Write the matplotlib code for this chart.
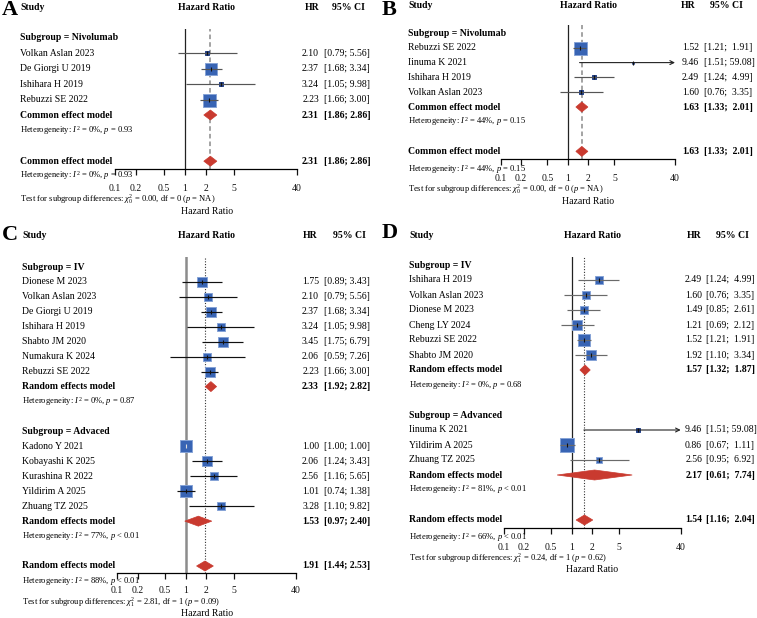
import numpy as np
import matplotlib
matplotlib.use('Agg')
import matplotlib.pyplot as plt
from matplotlib.transforms import blended_transform_factory
from matplotlib.patches import Polygon
from matplotlib.ticker import NullLocator

plt.rcParams['font.family'] = ['Liberation Serif', 'DejaVu Serif']
plt.rcParams['mathtext.fontset'] = 'custom'
plt.rcParams['mathtext.rm'] = 'Liberation Serif'
plt.rcParams['mathtext.it'] = 'Liberation Serif:italic'
plt.rcParams['mathtext.bf'] = 'Liberation Serif:bold'

# ---------------- DATA ----------------
tick_vals = [0.1, 0.2, 0.5, 1, 2, 5, 40]
tick_labels = ['0.1', '0.2', '0.5', '1', '2', '5', '40']

# Panel A
a_study = ['Volkan Aslan 2023', 'De Giorgi U 2019', 'Ishihara H 2019', 'Rebuzzi SE 2022']
a_hr = [2.10, 2.37, 3.24, 2.23]
a_lo = [0.79, 1.68, 1.05, 1.66]
a_hi = [5.56, 3.34, 9.98, 3.00]
a_weight = [4.8, 39.0, 3.6, 52.6]
a_sub_est = [2.31, 1.86, 2.86]
a_all_est = [2.31, 1.86, 2.86]

# Panel B
b_study = ['Rebuzzi SE 2022', 'Iinuma K 2021', 'Ishihara H 2019', 'Volkan Aslan 2023']
b_hr = [1.52, 9.46, 2.49, 1.60]
b_lo = [1.21, 1.51, 1.24, 0.76]
b_hi = [1.91, 59.08, 4.99, 3.35]
b_weight = [82.0, 1.3, 8.9, 7.8]
b_sub_est = [1.63, 1.33, 2.01]
b_all_est = [1.63, 1.33, 2.01]

# Panel C
c1_study = ['Dionese M 2023', 'Volkan Aslan 2023', 'De Giorgi U 2019', 'Ishihara H 2019',
            'Shabto JM 2020', 'Numakura K 2024', 'Rebuzzi SE 2022']
c1_hr = [1.75, 2.10, 2.37, 3.24, 3.45, 2.06, 2.23]
c1_lo = [0.89, 0.79, 1.68, 1.05, 1.75, 0.59, 1.66]
c1_hi = [3.43, 5.56, 3.34, 9.98, 6.79, 7.26, 3.00]
c1_weight = [7.8, 4.7, 9.6, 4.7, 9.6, 4.7, 9.6]
c1_est = [2.33, 1.92, 2.82]
c2_study = ['Kadono Y 2021', 'Kobayashi K 2025', 'Kurashina R 2022', 'Yildirim A 2025', 'Zhuang TZ 2025']
c2_hr = [1.00, 2.06, 2.56, 1.01, 3.28]
c2_lo = [1.00, 1.24, 1.16, 0.74, 1.10]
c2_hi = [1.00, 3.43, 5.65, 1.38, 9.82]
c2_weight = [13.8, 9.6, 6.1, 13.8, 6.1]
c2_est = [1.53, 0.97, 2.40]
c_all_est = [1.91, 1.44, 2.53]

# Panel D
d1_study = ['Ishihara H 2019', 'Volkan Aslan 2023', 'Dionese M 2023', 'Cheng LY 2024',
            'Rebuzzi SE 2022', 'Shabto JM 2020']
d1_hr = [2.49, 1.60, 1.49, 1.21, 1.52, 1.92]
d1_lo = [1.24, 0.76, 0.85, 0.69, 1.21, 1.10]
d1_hi = [4.99, 3.35, 2.61, 2.12, 1.91, 3.34]
d1_weight = [8.1, 8.1, 8.1, 12.7, 18.2, 12.7]
d1_est = [1.57, 1.32, 1.87]
d2_study = ['Iinuma K 2021', 'Yildirim A 2025', 'Zhuang TZ 2025']
d2_hr = [9.46, 0.86, 2.56]
d2_lo = [1.51, 0.67, 0.95]
d2_hi = [59.08, 1.11, 6.92]
d2_weight = [2.0, 24.8, 5.3]
d2_est = [2.17, 0.61, 7.74]
d_all_est = [1.54, 1.16, 2.04]

# ---------------- DRAWING ----------------
W, H = 757, 618
fig = plt.figure(figsize=(W / 100, H / 100), dpi=100)

BOX = '#3864b4'
BOX_EDGE = '#86a3d6'
BOX_SMALL = '#203f88'
DIAM = '#c93a2f'
FS = 7.0
FS_SMALL = 6.1


def fx(x):
    return x / W


def fy(y):
    return 1 - y / H


def fmt_ci(lo, hi, wid):
    return '[{:.2f}; {}]'.format(lo, '{:.2f}'.format(hi).rjust(wid))


def draw_panel(P):
    x0, x1 = P['ax_x']
    ytop, yaxis = P['ax_y']
    y0, dy = P['row0'], P['dy']
    ax = fig.add_axes([fx(x0), fy(yaxis), (x1 - x0) / W, (yaxis - ytop) / H])
    ax.set_xscale('log')
    ax.set_xlim(0.1, 40)
    ax.set_ylim((yaxis - y0) / dy, (ytop - y0) / dy)
    ax.patch.set_visible(False)
    for s in ['top', 'right', 'left']:
        ax.spines[s].set_visible(False)
    ax.spines['bottom'].set_linewidth(0.9)
    ax.set_yticks([])
    ax.set_xticks(tick_vals)
    ax.set_xticklabels(tick_labels)
    ax.xaxis.set_minor_locator(NullLocator())
    ax.tick_params(axis='x', length=4.5, width=0.9, pad=P['tick_pad'], labelsize=FS,
                   colors='#111')
    tr = blended_transform_factory(fig.transFigure, ax.transData)

    ax.axvline(1, color=P['one_color'], lw=P['one_lw'], zorder=1)
    ax.axvline(P['overall'][0], color=P['ref_color'], lw=P['ref_lw'], ls=P['ref_ls'], zorder=1)

    # headers
    hy = P['head_y']
    fig.text(fx(P['letter_x']), fy(P['letter_y']), P['letter'], fontsize=16, fontweight='bold',
             va='center', ha='left')
    fig.text(fx(P['study_x']), fy(hy), 'Study', fontsize=FS, fontweight='bold', va='center')
    fig.text(fx(P['hr_head_x']), fy(hy), 'Hazard Ratio', fontsize=FS, fontweight='bold',
             va='center', ha='center')
    fig.text(fx(P['hrcol_head_x']), fy(hy), 'HR', fontsize=FS, fontweight='bold',
             va='center', ha='center')
    fig.text(fx(P['ci_head_x']), fy(hy), '95% CI', fontsize=FS, fontweight='bold',
             va='center', ha='center')

    wid = P['ciwid']
    sx = fx(P['study_x'])
    hrx = fx(P['hr_x'])
    cix = fx(P['ci_x'])
    allw = [w for sg in P['groups'] for w in sg['weight']]
    wmax = max(allw)
    i = 0
    for sg in P['groups']:
        ax.text(sx, i, 'Subgroup = ' + sg['name'], transform=tr, fontsize=FS,
                fontweight='bold', va='center')
        i += 1
        for name, hr, lo, hi, w in zip(sg['study'], sg['hr'], sg['lo'], sg['hi'], sg['weight']):
            side = P['box_max'] * np.sqrt(w / wmax)
            small = side < 6
            ax.plot([hr], [i], marker='s', ms=side * 0.72, mfc=BOX_SMALL if small else BOX,
                    mec=BOX_SMALL if small else BOX_EDGE, mew=0.7, ls='none', zorder=3)
            if hi > 40:
                ax.annotate('', xy=(40, i), xytext=(lo, i),
                            arrowprops=dict(arrowstyle='->', lw=0.8, color='#222',
                                            shrinkA=0, shrinkB=0, mutation_scale=7),
                            annotation_clip=False, zorder=4)
            else:
                ax.plot([lo, hi], [i, i], color=P['ci_color'], lw=0.85, zorder=4,
                        solid_capstyle='butt')
            ax.plot([hr], [i], marker='|', ms=3.2, mew=0.8,
                    color='#ddd' if lo == hi else '#111', ls='none', zorder=5)
            ax.text(sx, i, name, transform=tr, fontsize=FS, va='center')
            ax.text(hrx, i, '{:.2f}'.format(hr), transform=tr, fontsize=FS, va='center', ha='right')
            ax.text(cix, i, fmt_ci(lo, hi, wid), transform=tr, fontsize=FS, va='center', ha='left')
            i += 1
        est, lo, hi = sg['est']
        hh = 5.0 / P['dy']
        ax.add_patch(Polygon([(lo, i), (est, i - hh), (hi, i), (est, i + hh)],
                             closed=True, fc=DIAM, ec=DIAM, lw=0.5, zorder=3))
        ax.text(sx, i, P['model'], transform=tr, fontsize=FS, fontweight='bold', va='center')
        ax.text(hrx, i, '{:.2f}'.format(est), transform=tr, fontsize=FS, fontweight='bold',
                va='center', ha='right')
        ax.text(cix, i, fmt_ci(lo, hi, wid), transform=tr, fontsize=FS, fontweight='bold',
                va='center', ha='left')
        i += 1
        ax.text(sx, i, sg['het'], transform=tr, fontsize=FS_SMALL, va='center')
        i += 2
    est, lo, hi = P['overall']
    hh = 5.0 / P['dy']
    ax.add_patch(Polygon([(lo, i), (est, i - hh), (hi, i), (est, i + hh)],
                         closed=True, fc=DIAM, ec=DIAM, lw=0.5, zorder=3, clip_on=False))
    ax.text(sx, i, P['model'], transform=tr, fontsize=FS, fontweight='bold', va='center')
    ax.text(hrx, i, '{:.2f}'.format(est), transform=tr, fontsize=FS, fontweight='bold',
            va='center', ha='right')
    ax.text(cix, i, fmt_ci(lo, hi, wid), transform=tr, fontsize=FS, fontweight='bold',
            va='center', ha='left')
    fig.text(sx, fy(P['het_all_y']), P['het_all'], fontsize=FS_SMALL, va='center')
    fig.text(sx, fy(P['test_y']), P['test'], fontsize=FS_SMALL, va='center')
    fig.text(fx(P['hr_head_x']), fy(P['xlab_y']), 'Hazard Ratio', fontsize=FS, va='center',
             ha='center')


panels = [
    dict(letter='A', letter_x=2, letter_y=10, head_y=7, study_x=20, hr_head_x=207,
         hrcol_head_x=312, ci_head_x=348, hr_x=319, ci_x=324, ciwid=4,
         ax_x=(115, 297), ax_y=(29, 169), row0=38, dy=15.4, tick_pad=6.5,
         one_color='#222', one_lw=0.9, ref_color='#8a8a8a', ref_lw=1.1, ref_ls=(0, (3, 2)),
         ci_color='#555', box_max=13, model='Common effect model',
         groups=[dict(name='Nivolumab', study=a_study, hr=a_hr, lo=a_lo, hi=a_hi,
                      weight=a_weight, est=a_sub_est,
                      het=r'Heterogeneity: $I^2$ = 0%, $p$ = 0.93')],
         overall=a_all_est, het_all=r'Heterogeneity: $I^2$ = 0%, $p$ = 0.93',
         test=r'Test for subgroup differences: $\chi^2_0$ = 0.00, df = 0 ($p$ = NA)',
         het_all_y=175, test_y=199, xlab_y=212),
    dict(letter='B', letter_x=382, letter_y=10, head_y=5, study_x=408, hr_head_x=588,
         hrcol_head_x=688, ci_head_x=726, hr_x=699, ci_x=704, ciwid=5,
         ax_x=(500.5, 675), ax_y=(25, 159), row0=33, dy=14.8, tick_pad=6.5,
         one_color='#222', one_lw=0.9, ref_color='#8a8a8a', ref_lw=1.1, ref_ls=(0, (3, 2)),
         ci_color='#555', box_max=13, model='Common effect model',
         groups=[dict(name='Nivolumab', study=b_study, hr=b_hr, lo=b_lo, hi=b_hi,
                      weight=b_weight, est=b_sub_est,
                      het=r'Heterogeneity: $I^2$ = 44%, $p$ = 0.15')],
         overall=b_all_est, het_all=r'Heterogeneity: $I^2$ = 44%, $p$ = 0.15',
         test=r'Test for subgroup differences: $\chi^2_0$ = 0.00, df = 0 ($p$ = NA)',
         het_all_y=169, test_y=189, xlab_y=202),
    dict(letter='C', letter_x=2, letter_y=235, head_y=236, study_x=22, hr_head_x=207,
         hrcol_head_x=310, ci_head_x=349, hr_x=319, ci_x=324, ciwid=4,
         ax_x=(117, 295.7), ax_y=(257, 573), row0=267, dy=14.95, tick_pad=5.0,
         one_color='#8c8c8c', one_lw=1.8, ref_color='#333', ref_lw=0.8, ref_ls=(0, (1, 1.5)),
         ci_color='#111', box_max=12.5, model='Random effects model',
         groups=[dict(name='IV', study=c1_study, hr=c1_hr, lo=c1_lo, hi=c1_hi,
                      weight=c1_weight, est=c1_est,
                      het=r'Heterogeneity: $I^2$ = 0%, $p$ = 0.87'),
                 dict(name='Advaced', study=c2_study, hr=c2_hr, lo=c2_lo, hi=c2_hi,
                      weight=c2_weight, est=c2_est,
                      het=r'Heterogeneity: $I^2$ = 77%, $p$ < 0.01')],
         overall=c_all_est, het_all=r'Heterogeneity: $I^2$ = 88%, $p$ < 0.01',
         test=r'Test for subgroup differences: $\chi^2_1$ = 2.81, df = 1 ($p$ = 0.09)',
         het_all_y=582, test_y=602, xlab_y=614),
    dict(letter='D', letter_x=382, letter_y=233, head_y=235, study_x=409, hr_head_x=592,
         hrcol_head_x=694, ci_head_x=732, hr_x=702, ci_x=706, ciwid=5,
         ax_x=(503.7, 680.7), ax_y=(257, 528), row0=265, dy=15.0, tick_pad=6.0,
         one_color='#222', one_lw=0.9, ref_color='#333', ref_lw=0.8, ref_ls=(0, (1, 1.5)),
         ci_color='#6a6a6a', box_max=14, model='Random effects model',
         groups=[dict(name='IV', study=d1_study, hr=d1_hr, lo=d1_lo, hi=d1_hi,
                      weight=d1_weight, est=d1_est,
                      het=r'Heterogeneity: $I^2$ = 0%, $p$ = 0.68'),
                 dict(name='Advanced', study=d2_study, hr=d2_hr, lo=d2_lo, hi=d2_hi,
                      weight=d2_weight, est=d2_est,
                      het=r'Heterogeneity: $I^2$ = 81%, $p$ < 0.01')],
         overall=d_all_est, het_all=r'Heterogeneity: $I^2$ = 66%, $p$ < 0.01',
         test=r'Test for subgroup differences: $\chi^2_1$ = 0.24, df = 1 ($p$ = 0.62)',
         het_all_y=538, test_y=558, xlab_y=570),
]

for P in panels:
    draw_panel(P)

fig.savefig('out.png', dpi=100, facecolor='white')
